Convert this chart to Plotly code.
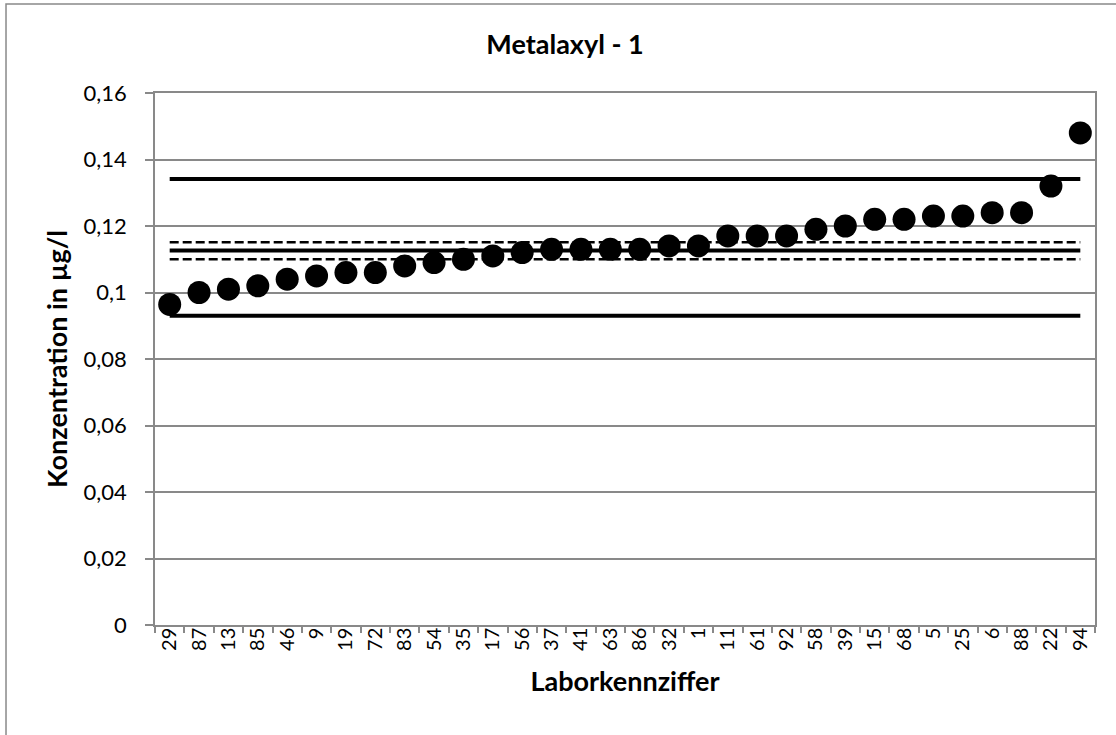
import plotly.graph_objects as go

# Laborkennziffern (sorted by result) and measured concentrations in µg/l
labs = ["29", "87", "13", "85", "46", "9", "19", "72", "83", "54", "35", "17",
        "56", "37", "41", "63", "86", "32", "1", "11", "61", "92", "58", "39",
        "15", "68", "5", "25", "6", "88", "22", "94"]
werte = [0.0964, 0.100, 0.101, 0.102, 0.104, 0.105, 0.106, 0.106, 0.108, 0.109,
         0.110, 0.111, 0.112, 0.113, 0.113, 0.113, 0.113, 0.114, 0.114, 0.117,
         0.117, 0.117, 0.119, 0.120, 0.122, 0.122, 0.123, 0.123, 0.124, 0.124,
         0.132, 0.148]

# reference values
mittelwert = 0.1126
vb_oben = 0.1151
vb_unten = 0.1100
toleranz_oben = 0.1341
toleranz_unten = 0.0930

FONT = "Lato"
GRAY = "#898989"

fig = go.Figure()

for val, dash, width in [(toleranz_oben, "solid", 4), (toleranz_unten, "solid", 4),
                         (mittelwert, "solid", 4), (vb_oben, "9px,4px", 2.5),
                         (vb_unten, "9px,4px", 2.5)]:
    fig.add_trace(go.Scatter(
        x=labs, y=[val] * len(labs), mode="lines",
        line=dict(color="black", width=width, dash=dash),
        hoverinfo="skip", showlegend=False))

fig.add_trace(go.Scatter(
    x=labs, y=werte, mode="markers",
    marker=dict(color="black", size=23, line=dict(width=0)),
    showlegend=False))

fig.update_layout(
    width=1116, height=735,
    margin=dict(l=155, r=21, t=93, b=110),
    paper_bgcolor="white", plot_bgcolor="white",
    separators=",.",
    font=dict(family=FONT, color="black", size=20),
    title=dict(text="<b>Metalaxyl - 1</b>", x=0.5063, xref="container",
               y=0.940, yref="container", xanchor="center", yanchor="middle",
               font=dict(family=FONT, size=27, color="black")),
    xaxis=dict(type="category", range=[-0.5, len(labs) - 0.5],
               showline=True, linecolor=GRAY, linewidth=1.5, mirror=True,
               ticks="outside", tickson="boundaries", ticklen=6,
               tickcolor=GRAY, tickwidth=1.5, tickangle=-90,
               ticklabelstandoff=-7,
               showgrid=False, tickfont=dict(size=20),
               title=dict(text="<b>Laborkennziffer</b>", standoff=22,
                          font=dict(size=27))),
    yaxis=dict(range=[0, 0.16], dtick=0.02, showline=True, linecolor=GRAY,
               linewidth=1.5, mirror=True, ticks="outside", ticklen=8,
               tickcolor=GRAY, tickwidth=1.5, showgrid=True, gridcolor=GRAY,
               gridwidth=1.5, zeroline=False, tickfont=dict(size=22),
               ticklabelstandoff=14,
               title=dict(text="<b>Konzentration in µg/l</b>", standoff=8,
                          font=dict(size=27))),
    shapes=[dict(type="rect", xref="paper", yref="paper",
                 x0=-0.1585, x1=1.04, y0=-0.23, y1=1.1673,
                 line=dict(color=GRAY, width=1.5), layer="below")],
)

fig.write_html("out.html", config={"displayModeBar": False},
               post_script="document.body.style.margin='0';")
